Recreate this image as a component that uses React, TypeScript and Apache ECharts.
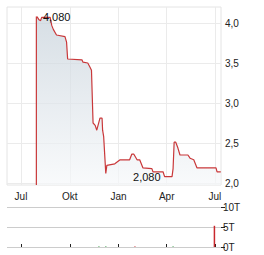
import React, { useEffect, useRef } from "react";
import * as echarts from "echarts";

const priceDates = [
  "2023-07-31", "2023-08-02", "2023-08-04", "2023-08-07", "2023-08-09",
  "2023-08-25", "2023-08-28", "2023-08-31", "2023-09-06", "2023-09-22", "2023-09-25",
  "2023-09-27", "2023-10-24", "2023-10-26", "2023-11-04", "2023-11-08", "2023-11-11",
  "2023-11-14", "2023-11-18", "2023-11-21", "2023-11-27", "2023-12-01", "2023-12-02",
  "2023-12-04", "2023-12-08", "2023-12-10", "2023-12-25", "2024-01-04", "2024-01-22",
  "2024-01-26", "2024-01-30", "2024-02-05", "2024-02-10", "2024-02-16", "2024-03-04",
  "2024-03-06", "2024-03-25", "2024-03-28", "2024-04-11", "2024-04-13", "2024-04-15",
  "2024-04-18", "2024-04-22", "2024-04-26", "2024-05-11", "2024-05-15", "2024-05-22",
  "2024-05-28", "2024-07-03", "2024-07-05", "2024-07-12",
];
const priceValues = [
  4.08, 4.06, 4.04, 4.03, 4.07,
  4.07, 3.97, 3.92, 3.85, 3.83, 3.76,
  3.55, 3.54, 3.51, 3.5, 3.45, 3.41,
  2.75, 2.72, 2.66, 2.81, 2.81, 2.66,
  2.58, 2.12, 2.22, 2.24, 2.29, 2.29,
  2.36, 2.36, 2.29, 2.29, 2.19, 2.18,
  2.14, 2.14, 2.08, 2.08, 2.18, 2.51,
  2.51, 2.44, 2.35, 2.35, 2.31, 2.29,
  2.19, 2.19, 2.14, 2.14,
];

const volumeDates = ["2023-11-25", "2023-12-08", "2024-02-01", "2024-04-13", "2024-06-30"];
const volumeValues = [150, 150, 100, 150, 5300];
const volumeUp = [true, true, false, true, false];

const priceTicks = [2.0, 2.5, 3.0, 3.5, 4.0];
const monthTickDates = ["2023-07-01", "2023-10-01", "2024-01-01", "2024-04-01", "2024-07-01"];
const monthNames = ["Jan", "Feb", "Mär", "Apr", "Mai", "Jun", "Jul", "Aug", "Sep", "Okt", "Nov", "Dez"];

const toTs = (s: string) => {
  const [y, m, d] = s.split("-").map(Number);
  return new Date(y, m - 1, d).getTime();
};

export default function App() {
  const ref = useRef<HTMLDivElement>(null);
  useEffect(() => {
    if (!ref.current) return;
    const chart = echarts.init(ref.current, undefined, { renderer: "svg" });
    const xMin = new Date(2023, 5, 4, 14).getTime();
    const xMax = new Date(2024, 6, 12, 10).getTime();
    const yMin = 1.975;
    const monthTicks = monthTickDates.map(toTs);
    const font = "Liberation Sans, Arial, sans-serif";
    const startTs = toTs(priceDates[0]) - 86400000;
    const areaColor = () =>
      new echarts.graphic.LinearGradient(0, 0, 0, 1, [
        { offset: 0, color: "#c6d1da" },
        { offset: 1, color: "#f6f8fa" },
      ]);
    chart.setOption({
      animation: false,
      grid: [
        { left: 7, top: 7, width: 214, height: 178, show: true, borderColor: "#e4e4e4", borderWidth: 1 },
        { left: 7, top: 207, width: 214, height: 40 },
      ],
      xAxis: [
        {
          type: "value",
          gridIndex: 0,
          min: xMin,
          max: xMax,
          axisLine: { show: false },
          axisTick: { show: false, customValues: monthTicks },
          splitLine: { show: true, lineStyle: { color: "#ebebeb" } },
          axisLabel: {
            customValues: monthTicks,
            fontSize: 10,
            fontFamily: font,
            color: "#222",
            margin: 6,
            formatter: (v: number) => monthNames[new Date(v).getMonth()],
          },
        },
        {
          type: "value",
          gridIndex: 1,
          min: xMin,
          max: xMax,
          position: "top",
          axisLine: { show: false },
          axisTick: { show: true, customValues: monthTicks, length: 3, inside: false, lineStyle: { color: "#222" } },
          splitLine: { show: false },
          axisLabel: { show: false },
        },
      ],
      yAxis: [
        {
          type: "value",
          gridIndex: 0,
          position: "right",
          min: yMin,
          max: 4.2,
          axisLine: { show: false },
          axisTick: { show: false, customValues: priceTicks },
          splitLine: { show: true, lineStyle: { color: "#ebebeb" } },
          axisLabel: {
            customValues: priceTicks,
            fontSize: 10,
            fontFamily: font,
            color: "#222",
            margin: 4,
            formatter: (v: number) => v.toFixed(1).replace(".", ","),
          },
        },
        {
          type: "value",
          gridIndex: 1,
          position: "right",
          min: 0,
          max: 10000,
          interval: 5000,
          axisLine: { show: false },
          axisTick: { show: true, length: 4, lineStyle: { color: "#222" } },
          splitLine: { show: true, lineStyle: { color: "#cccccc" } },
          axisLabel: {
            fontSize: 10,
            fontFamily: font,
            color: "#222",
            margin: 2,
            formatter: (v: number) => `${v / 1000}T`,
          },
        },
      ],
      series: [
        {
          type: "line",
          xAxisIndex: 0,
          yAxisIndex: 0,
          data: [[startTs, yMin], [startTs, priceValues[0]], [toTs(priceDates[0]), priceValues[0]]],
          showSymbol: false,
          symbol: "none",
          lineStyle: { color: "#c9383a", width: 1.2 },
          areaStyle: { color: areaColor() },
        },
        {
          type: "line",
          xAxisIndex: 0,
          yAxisIndex: 0,
          data: priceDates.map((d, i) => [toTs(d), priceValues[i]]),
          showSymbol: false,
          symbol: "none",
          lineStyle: { color: "#c9383a", width: 1.2 },
          areaStyle: { color: areaColor() },
          markPoint: {
            symbol: "circle",
            symbolSize: 0,
            data: [
              {
                type: "max",
                label: { show: true, position: "right", distance: 6, formatter: (p: any) => p.value.toFixed(3).replace(".", ",") },
              },
              {
                type: "min",
                label: { show: true, position: "left", distance: 4, formatter: (p: any) => p.value.toFixed(3).replace(".", ",") },
              },
            ],
            label: { fontSize: 11, fontFamily: font, color: "#111" },
          },
        },
        {
          type: "bar",
          xAxisIndex: 1,
          yAxisIndex: 1,
          barWidth: 1.5,
          data: volumeDates.map((d, i) => ({
            value: [toTs(d), volumeValues[i]],
            itemStyle: { color: volumeUp[i] ? "#2a9a3a" : "#c9282d" },
          })),
        },
      ],
    });
    return () => chart.dispose();
  }, []);
  return <div ref={ref} style={{ width: 264, height: 255, position: "absolute", left: 0, top: 0 }} />;
}
